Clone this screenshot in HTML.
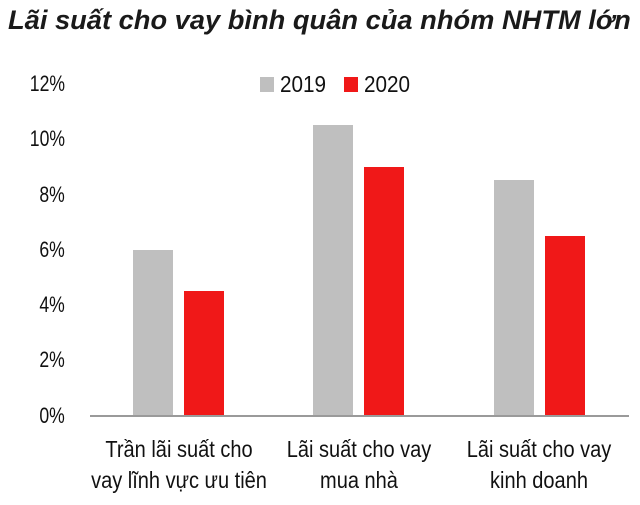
<!DOCTYPE html>
<html><head><meta charset="utf-8"><style>
body{margin:0;background:#fff;width:640px;height:505px;overflow:hidden;position:relative;font-family:"Liberation Sans",sans-serif;color:#111}
.t{position:absolute;left:8px;top:5px;font-weight:bold;font-style:italic;font-size:27px;color:#1a1a1a;white-space:nowrap;transform-origin:0 0;transform:scaleX(1.01)}
.yl{position:absolute;left:0;width:65px;text-align:right;font-size:22px;line-height:22px}
.yl span{display:inline-block;transform-origin:100% 50%;transform:scaleX(0.8)}
.bar{position:absolute;bottom:89px;width:40px}
.g{background:#bfbfbf}.r{background:#f01818}
.cat{position:absolute;top:434px;width:240px;text-align:center;font-size:23px;line-height:31px;white-space:nowrap;transform:scaleX(0.87)}
.lg{position:absolute;top:71px;font-size:23px;transform-origin:0 50%;transform:scaleX(0.9)}
</style></head><body>
<div class="t">Lãi suất cho vay bình quân của nhóm NHTM lớn</div>
<div class="yl" style="top:73px"><span>12%</span></div>
<div class="yl" style="top:128px"><span>10%</span></div>
<div class="yl" style="top:184px"><span>8%</span></div>
<div class="yl" style="top:239px"><span>6%</span></div>
<div class="yl" style="top:294px"><span>4%</span></div>
<div class="yl" style="top:349px"><span>2%</span></div>
<div class="yl" style="top:405px"><span>0%</span></div>
<div style="position:absolute;left:260px;top:77px;width:14px;height:15px;background:#bfbfbf"></div>
<div class="lg" style="left:280px">2019</div>
<div style="position:absolute;left:344px;top:77px;width:14px;height:15px;background:#f01818"></div>
<div class="lg" style="left:364px">2020</div>
<div class="bar g" style="left:133px;height:166px"></div>
<div class="bar r" style="left:184px;height:125px"></div>
<div class="bar g" style="left:313px;height:291px"></div>
<div class="bar r" style="left:364px;height:249px"></div>
<div class="bar g" style="left:494px;height:236px"></div>
<div class="bar r" style="left:545px;height:180px"></div>
<div style="position:absolute;left:90px;top:415px;width:539px;height:2px;background:#9a9a9a"></div>
<div class="cat" style="left:59px">Trần lãi suất cho<br>vay lĩnh vực ưu tiên</div>
<div class="cat" style="left:239px">Lãi suất cho vay<br>mua nhà</div>
<div class="cat" style="left:419px">Lãi suất cho vay<br>kinh doanh</div>
</body></html>
